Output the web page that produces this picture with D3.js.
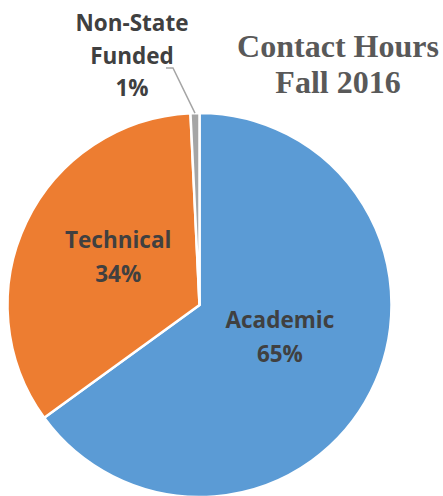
<!DOCTYPE html>
<meta charset="utf-8">
<script src="https://d3js.org/d3.v7.min.js"></script>
<style>
  body { margin: 0; background: #fff; }
</style>
<div id="chart"></div>
<script>
    // data
    var categories = ["Academic", "Technical", "Non-State Funded"];
    var values = [65.0, 34.25, 0.75];
    var colors = ["#5B9BD5", "#ED7D31", "#A5A5A5"];
    var titleLines = ["Contact Hours", "Fall 2016"];

    var width = 443, height = 496;
    var cx = 199.5, cy = 305, radius = 192;

    var svg = d3.select("#chart")
        .append("svg")
        .attr("width", width)
        .attr("height", height);

    var g = svg.append("g")
        .attr("transform", "translate(" + cx + "," + cy + ")");

    var data = categories.map(function (c, i) {
        return { name: c, value: values[i], color: colors[i] };
    });

    // excel style: start at 12 o'clock, clockwise, keep order
    var pie = d3.pie()
        .value(function (d) { return d.value; })
        .sort(null);

    var arcs = pie(data);

    var arc = d3.arc()
        .innerRadius(0)
        .outerRadius(radius);

    g.selectAll("path.slice")
        .data(arcs)
        .enter()
        .append("path")
        .attr("class", "slice")
        .attr("d", arc)
        .style("fill", function (d) { return d.data.color; })
        .style("stroke", "#fff")
        .style("stroke-width", 2.5);

    var pct = function (d) { return Math.round(d.data.value) + "%"; };
    var labelFont = "'Open Sans', sans-serif";

    // labels inside the big slices
    var labelArc = d3.arc()
        .innerRadius(radius * 0.47)
        .outerRadius(radius * 0.47);

    var inside = arcs.filter(function (d) { return d.data.value > 5; });
    inside.forEach(function (d) {
        var c = labelArc.centroid(d);
        var t = g.append("text")
            .attr("text-anchor", "middle")
            .style("font-family", labelFont)
            .style("font-weight", "bold")
            .style("font-size", "22.5px")
            .style("fill", "#404040");
        t.append("tspan").attr("x", c[0]).attr("y", c[1] - 18).text(d.data.name);
        t.append("tspan").attr("x", c[0]).attr("y", c[1] + 16).text(pct(d));
    });

    // small slice: label outside with a leader line
    var outside = arcs.filter(function (d) { return d.data.value <= 5; });
    outside.forEach(function (d) {
        var mid = (d.startAngle + d.endAngle) / 2;
        var p0 = [Math.sin(mid) * radius, -Math.cos(mid) * radius];
        var elbow = [p0[0] - 22, -radius - 45];
        var tail = [elbow[0] - 7, elbow[1]];
        g.append("polyline")
            .attr("points", [p0, elbow, tail].map(function (p) { return p.join(","); }).join(" "))
            .style("fill", "none")
            .style("stroke", "#A5A5A5")
            .style("stroke-width", 1.5);

        var lx = tail[0] - 34;
        var words = d.data.name.split(" ");
        var lines = [words[0], words.slice(1).join(" "), pct(d)];
        var t = g.append("text")
            .attr("text-anchor", "middle")
            .style("font-family", labelFont)
            .style("font-weight", "bold")
            .style("font-size", "22.5px")
            .style("fill", "#404040");
        lines.forEach(function (l, i) {
            t.append("tspan")
                .attr("x", lx)
                .attr("y", -radius - 82 + i * 32.5)
                .text(l);
        });
    });

    // title
    var title = svg.append("text")
        .attr("text-anchor", "middle")
        .style("font-family", "'Liberation Serif', 'Times New Roman', serif")
        .style("font-weight", "bold")
        .style("font-size", "32px")
        .style("fill", "#595959");
    titleLines.forEach(function (l, i) {
        title.append("tspan")
            .attr("x", 338)
            .attr("y", 57 + i * 36)
            .text(l);
    });
</script>
